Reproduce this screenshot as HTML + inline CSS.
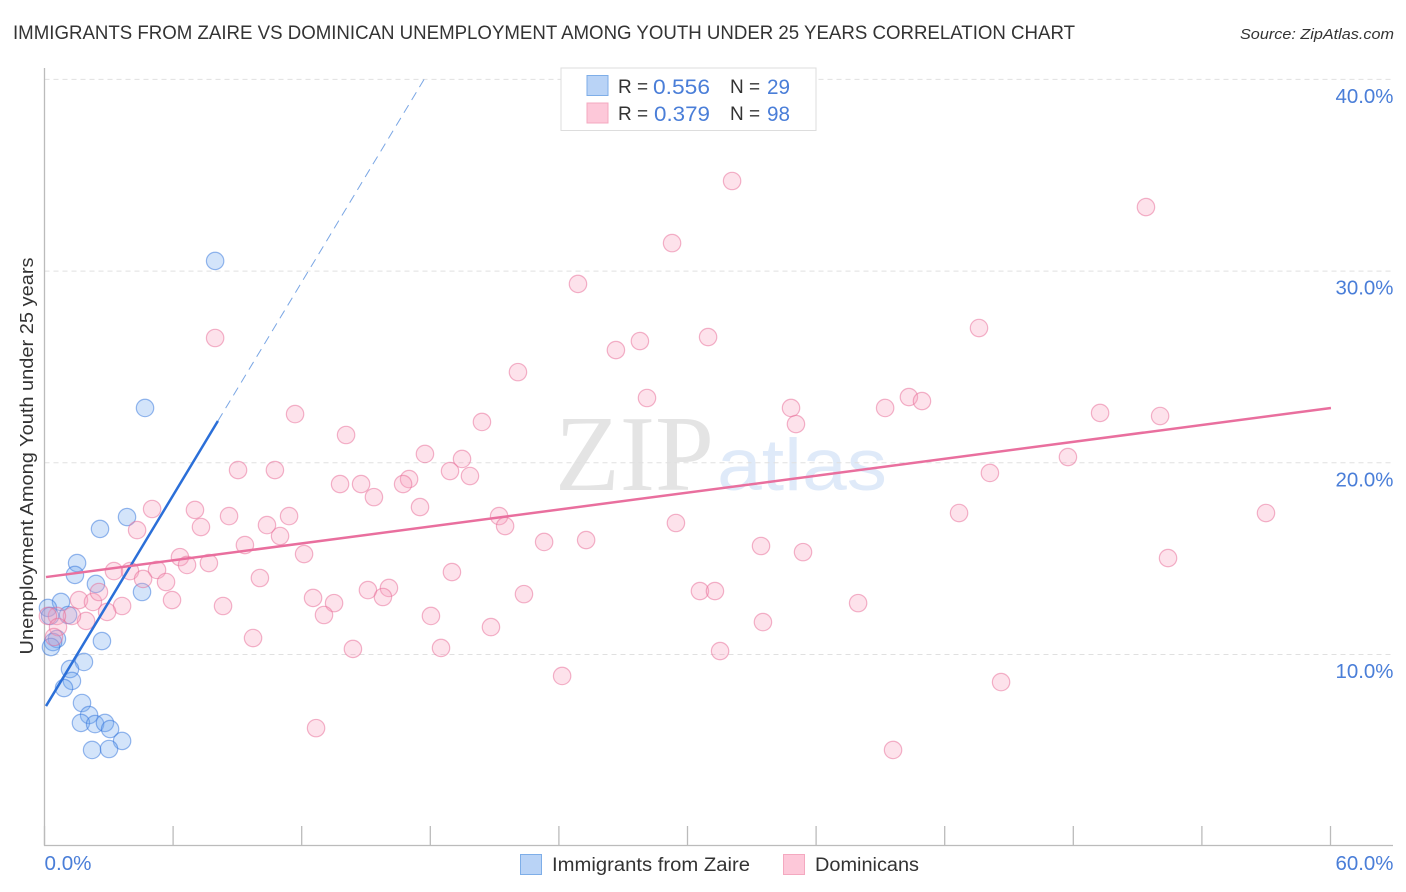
<!DOCTYPE html>
<html lang="en">
<head>
<meta charset="utf-8">
<title>Immigrants from Zaire vs Dominican Unemployment Chart</title>
<style>
html,body{margin:0;padding:0;background:#fff;width:1406px;height:892px;overflow:hidden}
svg{display:block}
text{font-family:"Liberation Sans",sans-serif}
</style>
</head>
<body>
<svg id="chart" width="1406" height="892" viewBox="0 0 1406 892" xmlns="http://www.w3.org/2000/svg">
  <rect x="0" y="0" width="1406" height="892" fill="#fff"/>
  <text x="13" y="39" font-size="19" fill="#333" textLength="1062" lengthAdjust="spacingAndGlyphs">IMMIGRANTS FROM ZAIRE VS DOMINICAN UNEMPLOYMENT AMONG YOUTH UNDER 25 YEARS CORRELATION CHART</text>
  <text x="1394" y="39" font-size="15" font-style="italic" fill="#333" text-anchor="end" textLength="154" lengthAdjust="spacingAndGlyphs">Source: ZipAtlas.com</text>

  <g>
    <text x="555" y="490" font-size="108" fill="#e4e4e4" textLength="159" lengthAdjust="spacingAndGlyphs" style="font-family:'Liberation Serif',serif">ZIP</text>
    <text x="717" y="490" font-size="73" fill="#dfeaf9" textLength="170" lengthAdjust="spacingAndGlyphs">atlas</text>
  </g>

  <g id="grid"></g>
  <g id="axes"></g>
  <g id="ylabels"></g>
  <g id="xlabels"></g>
  <text transform="translate(33,456) rotate(-90)" font-size="18.5" fill="#333" text-anchor="middle" textLength="397" lengthAdjust="spacingAndGlyphs">Unemployment Among Youth under 25 years</text>

  <g id="zaire-points"></g>
  <g id="dominican-points"></g>
  <g id="trends"></g>

  <g>
    <rect x="561" y="68" width="255" height="62.5" fill="#fff" stroke="#ddd" stroke-width="1"/>
    <rect x="587" y="75.5" width="21" height="20" fill="#b9d3f6" stroke="#7eaee8"/>
    <rect x="587" y="103" width="21" height="20" fill="#fdc8d9" stroke="#f4a9c0"/>
    <text x="618" y="93" font-size="19" fill="#333">R =</text>
    <text x="653" y="94" font-size="21" fill="#4a7ed8" textLength="57" lengthAdjust="spacingAndGlyphs">0.556</text>
    <text x="730" y="93" font-size="19" fill="#333">N =</text>
    <text x="767" y="94" font-size="21" fill="#4a7ed8" textLength="23" lengthAdjust="spacingAndGlyphs">29</text>
    <text x="618" y="120" font-size="19" fill="#333">R =</text>
    <text x="654" y="121" font-size="21" fill="#4a7ed8" textLength="56" lengthAdjust="spacingAndGlyphs">0.379</text>
    <text x="730" y="120" font-size="19" fill="#333">N =</text>
    <text x="767" y="121" font-size="21" fill="#4a7ed8" textLength="23" lengthAdjust="spacingAndGlyphs">98</text>
  </g>

  <g>
    <rect x="520.5" y="854.5" width="21" height="20" fill="#b9d3f6" stroke="#7eaee8"/>
    <text x="552" y="871" font-size="19" fill="#333" textLength="198" lengthAdjust="spacingAndGlyphs">Immigrants from Zaire</text>
    <rect x="783.5" y="854.5" width="21" height="20" fill="#fdc8d9" stroke="#f4a9c0"/>
    <text x="815" y="871" font-size="19" fill="#333" textLength="104" lengthAdjust="spacingAndGlyphs">Dominicans</text>
  </g>
</svg>
<script>
const xTickValues = [0, 6, 12, 18, 24, 30, 36, 42, 48, 54, 60];
const yGridValues = [10, 20, 30, 40];
const yTickLabels = ["10.0%", "20.0%", "30.0%", "40.0%"];
const xEndValues = [0, 60];
const xEndLabels = ["0.0%", "60.0%"];

const zaireX = [7.96,4.69,3.85,2.59,1.52,1.42,2.40,4.55,0.77,0.16,1.10,0.26,0.58,0.40,0.30,2.68,1.84,1.19,1.28,0.91,1.75,2.08,1.70,2.36,2.82,3.06,3.62,2.22,3.01];
const zaireY = [30.53,22.86,17.17,16.55,14.77,14.15,13.68,13.26,12.74,12.43,12.06,12.01,10.81,10.65,10.39,10.70,9.61,9.24,8.62,8.25,7.47,6.84,6.43,6.37,6.43,6.11,5.49,5.02,5.07];

const dominicanX = [7.96,32.08,51.39,29.28,24.89,27.78,26.66,30.96,43.60,22.09,28.11,34.83,35.06,39.22,40.33,40.94,49.25,52.05,11.69,14.07,20.41,17.75,19.48,9.03,10.75,18.92,19.85,17.01,16.73,13.79,14.77,15.37,47.75,44.11,5.02,7.02,17.52,8.61,11.41,4.32,7.30,10.38,10.99,21.21,21.49,29.46,42.67,56.99,9.35,12.11,23.31,25.27,33.43,35.39,52.42,6.32,7.67,6.65,5.25,3.24,3.99,4.60,5.67,19.01,10.05,15.09,16.07,15.79,12.53,13.51,22.37,30.58,31.28,37.96,5.95,1.61,2.26,2.54,3.62,2.92,8.33,13.04,18.03,20.83,33.52,9.73,18.50,14.39,31.52,24.15,44.63,12.67,39.59,1.94,1.28,0.58,0.16,0.63,0.44];
const dominicanY = [26.51,34.70,33.34,31.46,29.33,26.35,25.88,26.56,27.03,24.73,23.38,22.86,22.02,22.86,23.43,23.22,22.60,22.44,22.54,21.45,22.13,20.46,20.20,19.62,19.62,19.57,19.31,19.15,18.89,18.89,18.89,18.21,20.30,19.47,17.59,17.54,17.69,17.22,17.22,16.49,16.65,16.75,16.18,17.22,16.70,16.86,17.38,17.38,15.71,15.24,15.87,15.97,15.66,15.34,15.03,15.08,14.77,14.67,14.41,14.35,14.35,13.94,13.78,14.30,13.99,13.36,13.47,13.00,12.95,12.68,13.15,13.31,13.31,12.68,12.84,12.84,12.74,13.26,12.53,12.22,12.53,12.06,12.01,11.43,11.69,10.86,10.34,10.29,10.18,8.88,8.56,6.16,5.02,11.75,12.01,12.01,12.01,11.43,10.91];

const zaireTrendX = [0.07, 8.09];
const zaireTrendY = [7.31, 22.18];
const zaireExtensionX = [8.09, 17.71];
const zaireExtensionY = [22.18, 40.0];
const dominicanTrendX = [0.07, 60.02];
const dominicanTrendY = [14.04, 22.86];

const SVG_NS = "http://www.w3.org/2000/svg";
function xScale(v) { return 44.5 + v * (1286 / 60); }
function yScale(v) { return 654.5 - (v - 10) * 19.17; }
function make(tag, attrs, parent) {
  const el = document.createElementNS(SVG_NS, tag);
  for (const k in attrs) el.setAttribute(k, attrs[k]);
  parent.appendChild(el);
  return el;
}

const grid = document.getElementById("grid");
yGridValues.forEach(function (v) {
  const line = make("line", { x1: 44.5, x2: 1393, y1: yScale(v), y2: yScale(v), stroke: "#e0e0e0", "stroke-width": 1, "stroke-dasharray": "5 4" }, grid);
  
  
});

const axes = document.getElementById("axes");
const yAxis = make("line", { x1: 44.5, x2: 44.5, y1: 68, y2: 845.5, stroke: "#bbb", "stroke-width": 1.3 }, axes);


const xAxis = make("line", { x1: 44, x2: 1393, y1: 845.5, y2: 845.5, stroke: "#bbb", "stroke-width": 1.3 }, axes);


xTickValues.forEach(function (v) {
  const tick = make("line", { x1: xScale(v), x2: xScale(v), y1: 826, y2: 845.5, stroke: "#bbb", "stroke-width": 1.3 }, axes);
  
  
});

const ylabels = document.getElementById("ylabels");
yGridValues.forEach(function (v, i) {
  const t = make("text", { x: 1393.5, y: yScale(v) + 23.5, "font-size": 20, fill: "#4a7ed8", "text-anchor": "end", textLength: 58, lengthAdjust: "spacingAndGlyphs" }, ylabels);
  
  
  t.textContent = yTickLabels[i];
});

const xlabels = document.getElementById("xlabels");
xEndValues.forEach(function (v, i) {
  const isEnd = i === xEndValues.length - 1;
  const t = make("text", { x: isEnd ? xScale(v) + 63 : xScale(v), y: 870, "font-size": 20, fill: "#4a7ed8", "text-anchor": isEnd ? "end" : "start", textLength: isEnd ? 58 : 47, lengthAdjust: "spacingAndGlyphs" }, xlabels);
  
  
  t.textContent = xEndLabels[i];
});

const zaireGroup = document.getElementById("zaire-points");
zaireX.forEach(function (v, i) {
  const c = make("circle", { cx: xScale(v), cy: yScale(zaireY[i]), r: 8.7, fill: "rgb(110,165,238)", "fill-opacity": 0.3, stroke: "rgb(50,115,220)", "stroke-opacity": 0.5, "stroke-width": 1.2 }, zaireGroup);
  
  
});

const dominicanGroup = document.getElementById("dominican-points");
dominicanX.forEach(function (v, i) {
  const c = make("circle", { cx: xScale(v), cy: yScale(dominicanY[i]), r: 8.7, fill: "rgb(250,160,188)", "fill-opacity": 0.3, stroke: "rgb(232,105,150)", "stroke-opacity": 0.5, "stroke-width": 1.2 }, dominicanGroup);
  
  
});

const trends = document.getElementById("trends");
const zaireExt = make("line", { x1: xScale(zaireExtensionX[0]), y1: yScale(zaireExtensionY[0]), x2: xScale(zaireExtensionX[1]), y2: yScale(zaireExtensionY[1]), stroke: "#7aa6e4", "stroke-width": 1, "stroke-dasharray": "9 6" }, trends);


const zaireLine = make("line", { x1: xScale(zaireTrendX[0]), y1: yScale(zaireTrendY[0]), x2: xScale(zaireTrendX[1]), y2: yScale(zaireTrendY[1]), stroke: "#2b6fd8", "stroke-width": 2.5 }, trends);


const dominicanLine = make("line", { x1: xScale(dominicanTrendX[0]), y1: yScale(dominicanTrendY[0]), x2: xScale(dominicanTrendX[1]), y2: yScale(dominicanTrendY[1]), stroke: "#e96f9e", "stroke-width": 2.5 }, trends);


</script>
</body>
</html>
